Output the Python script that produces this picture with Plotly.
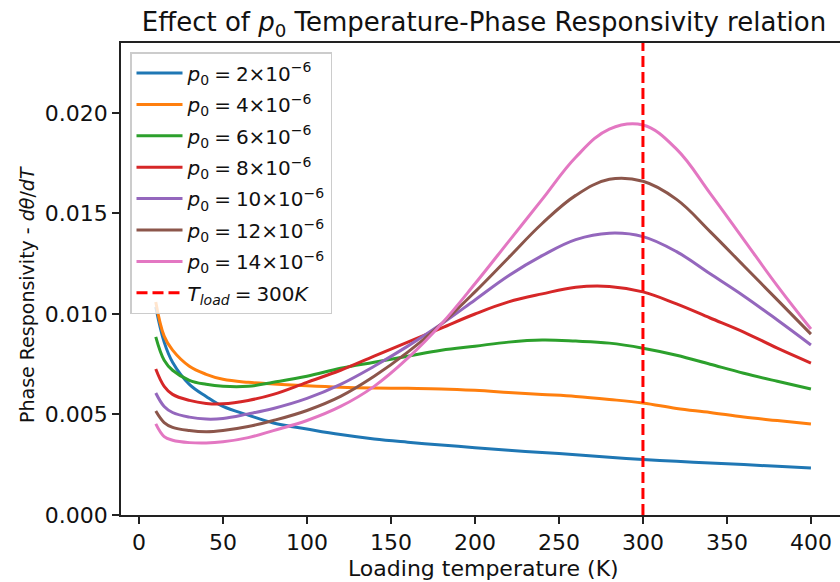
import plotly.graph_objects as go

# Loading temperature grid (K)
T = [10, 15, 20, 30, 40, 50, 65, 80, 100, 120, 140, 160, 180, 200,
     220, 240, 260, 280, 300, 320, 340, 360, 380, 400]

p0_labels = ["2", "4", "6", "8", "10", "12", "14"]

resp_p2 = [0.01035, 0.0086, 0.0076, 0.0065, 0.0059, 0.0054, 0.00497, 0.00458, 0.00428, 0.00400,
           0.00378, 0.00362, 0.00348, 0.00335, 0.00322, 0.00311, 0.00300, 0.00287, 0.00276, 0.00267,
           0.00259, 0.00251, 0.00242, 0.00234]
resp_p4 = [0.0106, 0.0089, 0.0082, 0.0074, 0.0070, 0.00675, 0.0066, 0.00652, 0.00643, 0.00636,
           0.00632, 0.00630, 0.00627, 0.0062, 0.0061, 0.0060, 0.0059, 0.00575, 0.00557, 0.0053,
           0.0051, 0.00487, 0.0047, 0.00453]
resp_p6 = [0.00886, 0.0077, 0.0072, 0.0067, 0.0065, 0.0064, 0.0064, 0.0066, 0.0069, 0.0073,
           0.0076, 0.0079, 0.0082, 0.0084, 0.0086, 0.0087, 0.00865, 0.00855, 0.0083, 0.00795,
           0.0075, 0.00705, 0.00665, 0.00627]
resp_p8 = [0.00726, 0.0064, 0.0060, 0.0057, 0.00555, 0.00553, 0.0057, 0.0060, 0.0066, 0.0072,
           0.0079, 0.0086, 0.0093, 0.0100, 0.0106, 0.0110, 0.01133, 0.01137, 0.0111, 0.0105,
           0.0098, 0.0091, 0.0083, 0.00756]
resp_p10 = [0.00607, 0.0054, 0.0051, 0.00487, 0.00477, 0.0048, 0.00503, 0.0053, 0.0058, 0.0065,
            0.0074, 0.0084, 0.0095, 0.0107, 0.0119, 0.0129, 0.0137, 0.01402, 0.01385, 0.0131,
            0.0120, 0.0109, 0.0097, 0.00846]
resp_p12 = [0.00517, 0.0046, 0.00436, 0.0042, 0.00414, 0.0042, 0.0044, 0.0047, 0.0052, 0.0059,
            0.0069, 0.0081, 0.0095, 0.0111, 0.0128, 0.0145, 0.0159, 0.0167, 0.0166, 0.0157,
            0.0141, 0.0124, 0.0107, 0.0090]
resp_p14 = [0.00453, 0.0039, 0.00372, 0.0036, 0.00358, 0.00364, 0.00385, 0.0042, 0.0047, 0.0054,
            0.0064, 0.0078, 0.0095, 0.0115, 0.0136, 0.0157, 0.0178, 0.0192, 0.0194, 0.0182,
            0.0160, 0.0137, 0.0114, 0.00925]

series = [resp_p2, resp_p4, resp_p6, resp_p8, resp_p10, resp_p12, resp_p14]
colors = ["#1f77b4", "#ff7f0e", "#2ca02c", "#d62728", "#9467bd", "#8c564b", "#e377c2"]

T_LOAD = 300
X_RANGE = [-10.7, 417.3]
Y_RANGE = [0.0, 0.02348]

FONT = "DejaVu Sans"
SP = "\u2005"  # narrow space, like mathtext spacing around '='

fig = go.Figure()
for i, (lab, ys, c) in enumerate(zip(p0_labels, series, colors)):
    fig.add_trace(go.Scatter(
        x=T, y=ys, mode="lines",
        line=dict(color=c, width=3, shape="spline", smoothing=1.1),
        name=f"<i>p</i><sub>0</sub>{SP}={SP}{lab}×10<sup>−6</sup>",
        legendgroup=f"g{i}",
    ))

fig.add_trace(go.Scatter(
    x=[T_LOAD, T_LOAD], y=Y_RANGE, mode="lines",
    line=dict(color="#ff0000", width=3, dash="11px,5px"),
    name=f"<i>T<sub>load</sub></i>{SP}={SP}300<i>K</i>",
    legendgroup="gload",
))

axis_common = dict(
    showline=True, linecolor="#222222", linewidth=1.5,
    ticks="outside", ticklen=7, tickwidth=1.5, tickcolor="#222222",
    showgrid=False, zeroline=False,
    tickfont=dict(family=FONT, size=22, color="#111111"),
)

fig.update_layout(
    width=840, height=582,
    margin=dict(l=121, r=0, t=43, b=67),
    paper_bgcolor="white", plot_bgcolor="white",
    font=dict(family=FONT, size=20, color="#111111"),
    title=dict(
        text="Effect of <i>p</i><sub>0</sub> Temperature-Phase Responsivity relation",
        x=484 / 840, xanchor="center", y=1 - 22 / 582, yanchor="middle",
        font=dict(family=FONT, size=26, color="#111111"),
    ),
    xaxis=dict(range=X_RANGE, dtick=50, tick0=0, mirror=True, **axis_common),
    yaxis=dict(range=Y_RANGE, dtick=0.005, tick0=0, tickformat=".3f", **axis_common),
    legend=dict(
        x=(130 - 121) / 719, y=1 - (52 - 43) / 472, xanchor="left", yanchor="top",
        bgcolor="rgba(255,255,255,0.8)", bordercolor="#cccccc", borderwidth=1.5,
        font=dict(family=FONT, size=20, color="#111111"),
        itemwidth=46, tracegroupgap=2.4,
    ),
    showlegend=True,
)

# axis titles placed as annotations for exact positioning
fig.add_annotation(
    text="Loading temperature (K)", xref="paper", yref="paper",
    x=(483.5 - 121) / 719, y=(515 - 568) / 472, xanchor="center", yanchor="middle",
    showarrow=False, font=dict(family=FONT, size=22, color="#111111"),
)
fig.add_annotation(
    text="Phase Responsivity - <i>dθ</i>/<i>dT</i>", xref="paper", yref="paper",
    x=(27 - 121) / 719, y=(515 - 295) / 472, xanchor="center", yanchor="middle",
    textangle=-90, showarrow=False, font=dict(family=FONT, size=19, color="#111111"),
)

fig.write_html("out.html")
